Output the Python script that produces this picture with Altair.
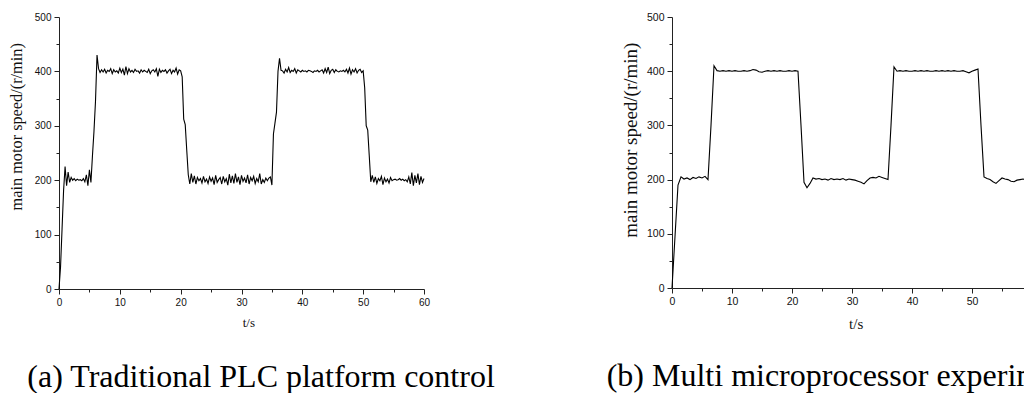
import altair as alt
import pandas as pd

# ---------------- data ----------------
# (a) traditional PLC, sampled every 0.25 s from 0 to 60 s
speed_a = [
    0, 40, 110, 180, 225, 190, 215, 196, 205, 200, 203, 199, 202, 200, 201, 199,
    203, 197, 210, 190, 219, 196, 245, 290, 345, 430, 405,
    398, 403, 399, 404, 397, 402, 400, 405, 396, 403,
    399, 401, 397, 406, 398, 404, 393, 409, 396, 405,
    399, 402, 398, 404, 400, 401, 397, 403, 399, 402,
    400, 398, 404, 396, 401, 403, 399, 405, 391, 404,
    398, 402, 400, 403, 397, 401, 404, 396, 402, 399,
    406, 395, 403, 401,
    390, 312, 302, 255, 210, 193,
    212, 196, 208, 193, 205, 199, 203, 195, 207, 197,
    202, 194, 206, 198, 204, 192, 209, 196, 201, 205,
    193, 207, 197, 203, 191, 211, 195, 208, 194, 212,
    196, 206, 192, 209, 198, 204, 195, 210, 193, 205,
    199, 207, 194, 203, 197, 212, 193, 201, 196, 204,
    199, 204, 206, 191,
    285, 305, 325, 400, 424, 402,
    401, 397, 404, 399, 407, 398, 402, 400, 405, 397,
    403, 401, 399, 402, 400, 401, 399, 402, 401, 400,
    398, 401, 400, 402, 399, 401, 403, 397, 405, 398,
    408, 396, 402, 404, 398, 403, 400, 399, 401, 400,
    402, 399, 404, 397, 406, 395, 403, 399, 405, 397,
    402, 404, 398, 401,
    370, 300, 292, 245, 197, 209,
    196, 206, 194, 203, 199, 207, 192, 204, 197, 202,
    195, 205, 199, 201, 202, 200, 201, 203, 200, 202,
    199, 201, 197, 206, 193, 214, 190, 209, 195, 212,
    192, 207, 196, 203,
]
t_a = [i * 0.25 for i in range(len(speed_a))]

# (b) multi microprocessor, sampled every 0.5 s from 0 to 60 s
speed_b = [
    0, 95, 190, 205, 201, 203, 200, 204, 202, 205, 203, 206, 200,
    300, 410, 401,
    400, 401, 400, 401, 400, 401, 400, 400, 401, 400, 401, 403, 402, 399,
    398, 400, 401, 400, 401, 400, 401, 400, 400, 401, 400, 401, 400,
    300, 195, 185, 193, 203,
    201, 202, 200, 201, 199, 202, 200, 201, 200, 202, 199, 201, 200, 199,
    197, 195, 192, 198, 203, 204, 203, 206, 204, 202, 200,
    300, 408, 400,
    401, 400, 401, 400, 400, 401, 400, 401, 400, 401, 400, 400, 401, 400,
    401, 400, 401, 400, 401, 400, 400, 401, 399, 397, 400, 402, 404,
    300, 205, 202,
    200, 196, 193, 198, 203, 201, 200, 197, 196, 199, 200, 201, 200, 199, 203,
]
t_b = [i * 0.5 for i in range(len(speed_b))]

x_ticks = [0, 5, 10, 15, 20, 25, 30, 35, 40, 45, 50, 55, 60]
y_ticks = [0, 50, 100, 150, 200, 250, 300, 350, 400, 450, 500]

x_title = "t/s"
y_title = "main motor speed/(r/min)"
caption_a = "(a) Traditional PLC platform control"
caption_b = "(b) Multi microprocessor experiment"

df_a = pd.DataFrame({"t": t_a, "v": speed_a})
df_b = pd.DataFrame({"t": t_b, "v": speed_b})

SERIF = "Liberation Serif"
SANS = "Liberation Sans"


def panel(df, width, height, label_size, ytitle_size, ytitle_x, ytitle_y,
          xtitle_size, xtitle_x, xtitle_y, caption, cap_dx, cap_offset):
    common = dict(
        domainColor="#222", domainWidth=1, tickColor="#222", tickWidth=1,
        labelFont=SANS, labelFontSize=label_size, labelColor="#111",
        labelOverlap=False, labelFlush=False, grid=False,
        titleFont=SERIF, titleFontWeight="normal", titleColor="#111",
    )
    xaxis = alt.Axis(
        values=x_ticks,
        tickSize={"condition": {"test": "datum.value % 10 === 0", "value": 5}, "value": 3},
        labelExpr="datum.value % 10 === 0 ? datum.label : ''",
        labelPadding=3,
        title=x_title, titleFontSize=xtitle_size,
        titleX=xtitle_x, titleY=xtitle_y, titleAlign="center",
        titleBaseline="alphabetic", titleAngle=0,
        **common,
    )
    yaxis = alt.Axis(
        values=y_ticks,
        tickSize={"condition": {"test": "datum.value % 100 === 0", "value": 5}, "value": 3},
        labelExpr="datum.value % 100 === 0 ? datum.label : ''",
        labelPadding=3,
        title=y_title, titleFontSize=ytitle_size,
        titleX=ytitle_x, titleY=ytitle_y, titleAlign="center",
        titleBaseline="middle", titleAngle=270,
        **common,
    )
    return alt.Chart(df).mark_line(color="black", strokeWidth=1.1).encode(
        x=alt.X("t:Q", scale=alt.Scale(domain=[0, 60], nice=False, zero=False), axis=xaxis),
        y=alt.Y("v:Q", scale=alt.Scale(domain=[0, 500], nice=False), axis=yaxis),
    ).properties(
        width=width, height=height,
        title=alt.TitleParams(
            text=caption, orient="bottom", anchor="start", frame="group",
            dx=cap_dx, offset=cap_offset, font=SERIF, fontSize=32,
            fontWeight="normal", color="black",
        ),
    )


left = panel(df_a, 365, 272, 10, 16.3, -42.7, 109.3, 13, 189.3, 37.3,
             caption_a, -31.7, 32.5)
right = panel(df_b, 360, 271, 10.5, 19, -41.3, 122.7, 15, 183.7, 40.3,
              caption_b, -65.3, 30)

chart = alt.hconcat(left, right, spacing=110).properties(
    padding={"left": 0, "top": 4, "right": -57, "bottom": 0},
    background="white",
).configure_view(stroke=None)

chart.save("out.html", embed_options={"renderer": "svg", "actions": False})
